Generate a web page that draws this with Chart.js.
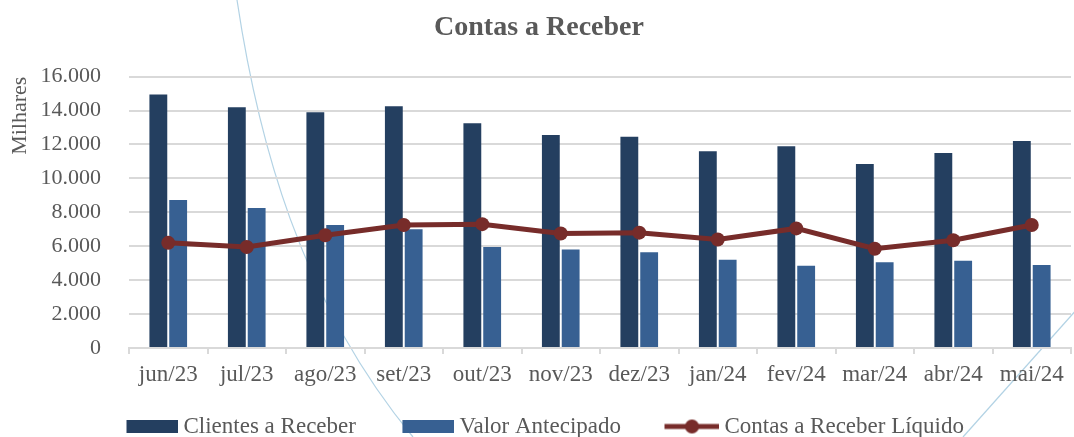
<!DOCTYPE html>
<html>
<head>
<meta charset="utf-8">
<script src="https://cdn.jsdelivr.net/npm/chart.js@4"></script>
<style>
  body { margin: 0; background: #fff; }
  #wrap { width: 1074px; height: 437px; overflow: hidden; position: relative; }
  canvas { display: block; }
</style>
</head>
<body>
<div id="wrap"><canvas id="c_receber" width="1078" height="448"></canvas></div>
<script>
const meses = ['jun/23', 'jul/23', 'ago/23', 'set/23', 'out/23', 'nov/23', 'dez/23', 'jan/24', 'fev/24', 'mar/24', 'abr/24', 'mai/24'];
const clientes = [14950, 14200, 13900, 14250, 13250, 12550, 12450, 11600, 11900, 10850, 11500, 12200];
const antecipado = [8730, 8250, 7250, 7000, 5950, 5800, 5650, 5200, 4850, 5050, 5150, 4900];
const liquido = [6200, 5950, 6650, 7250, 7300, 6750, 6800, 6400, 7050, 5850, 6350, 7250];

const cor_clientes = '#243F60';
const cor_antecipado = '#376092';
const cor_liquido = '#772C2A';
const cinza = '#595959';
const fonte = "'Liberation Serif', 'Times New Roman', serif";

const c_receber = document.getElementById('c_receber');

// simbolos da legenda (a parte esquerda fica transparente para aproximar o texto)
function boxImg(cor) {
    const cv = document.createElement('canvas');
    cv.width = 95;
    cv.height = 13;
    const g = cv.getContext('2d');
    g.fillStyle = cor;
    g.fillRect(95 - 52, 0, 52, 13);
    return cv;
}
function lineImg(cor) {
    const cv = document.createElement('canvas');
    cv.width = 95;
    cv.height = 16;
    const g = cv.getContext('2d');
    g.strokeStyle = cor;
    g.lineWidth = 5;
    g.beginPath();
    g.moveTo(95 - 55, 8);
    g.lineTo(95, 8);
    g.stroke();
    g.fillStyle = cor;
    g.beginPath();
    g.arc(95 - 27.5, 8, 7, 0, Math.PI * 2);
    g.fill();
    return cv;
}

// linhas decorativas do fundo + ajuste da legenda
const fundo = {
    id: 'fundo',
    afterLayout(chart) {
        chart.legend.left -= 24;
    },
    beforeDraw(chart) {
        const ctx = chart.ctx;
        ctx.save();
        ctx.strokeStyle = 'rgba(170, 205, 225, 0.9)';
        ctx.lineWidth = 1.2;
        ctx.beginPath();
        ctx.moveTo(237, 0);
        ctx.bezierCurveTo(258, 140, 300, 300, 413, 437);
        ctx.stroke();
        ctx.beginPath();
        ctx.moveTo(1078, 308);
        ctx.lineTo(963, 437);
        ctx.stroke();
        ctx.restore();
    }
};

var receber_data = {
    type: 'bar',
    data: {
        labels: meses,
        datasets: [
            {
                label: 'Clientes a Receber',
                data: clientes,
                backgroundColor: cor_clientes,
                borderWidth: 0,
                categoryPercentage: 0.505,
                barPercentage: 0.9,
                order: 1
            },
            {
                label: 'Valor Antecipado',
                data: antecipado,
                backgroundColor: cor_antecipado,
                borderWidth: 0,
                categoryPercentage: 0.505,
                barPercentage: 0.9,
                order: 1
            },
            {
                type: 'line',
                label: 'Contas a Receber Líquido',
                data: liquido,
                borderColor: cor_liquido,
                backgroundColor: cor_liquido,
                borderWidth: 5,
                pointRadius: 7,
                pointBorderWidth: 0,
                pointBackgroundColor: cor_liquido,
                tension: 0,
                order: 0
            }
        ]
    },
    options: {
        responsive: false,
        animation: false,
        layout: { padding: 0 },
        plugins: {
            title: {
                display: true,
                text: 'Contas a Receber',
                color: cinza,
                font: { family: fonte, size: 28, weight: 'bold', lineHeight: 1.2 },
                padding: { top: 11, bottom: 32 }
            },
            legend: {
                position: 'bottom',
                labels: {
                    usePointStyle: true,
                    pointStyleWidth: 82,
                    padding: 10,
                    color: cinza,
                    font: { family: fonte, size: 23 },
                    generateLabels: (chart) => {
                        const imgs = [boxImg(cor_clientes), boxImg(cor_antecipado), lineImg(cor_liquido)];
                        return chart.data.datasets.map((ds, i) => ({
                            text: ds.label,
                            pointStyle: imgs[i],
                            fillStyle: 'transparent',
                            strokeStyle: 'transparent',
                            lineWidth: 0,
                            fontColor: cinza,
                            hidden: false,
                            datasetIndex: i
                        }));
                    }
                }
            },
            tooltip: { enabled: false }
        },
        scales: {
            x: {
                grid: {
                    offset: true,
                    drawOnChartArea: false,
                    color: '#d9d9d9',
                    lineWidth: 2,
                    tickLength: 6
                },
                border: { color: '#d9d9d9', width: 2 },
                ticks: {
                    color: cinza,
                    padding: 7,
                    maxRotation: 0,
                    autoSkip: false,
                    font: { family: fonte, size: 23 }
                },
                afterFit: (scale) => {
                    scale.height = 57;
                }
            },
            y: {
                min: 0,
                max: 16000,
                grid: {
                    color: '#d9d9d9',
                    lineWidth: 2,
                    drawTicks: false
                },
                border: { display: false },
                ticks: {
                    stepSize: 2000,
                    color: cinza,
                    padding: 28,
                    font: { family: fonte, size: 22 },
                    callback: (v) => String(v).replace(/\B(?=(\d{3})+(?!\d))/g, '.')
                },
                title: {
                    display: true,
                    text: 'Milhares',
                    align: 'end',
                    color: cinza,
                    font: { family: fonte, size: 22 },
                    padding: { top: 7, bottom: 0 }
                },
                afterFit: (scale) => {
                    scale.width = 129;
                }
            }
        }
    },
    plugins: [fundo]
};

var chart_receber = new Chart(c_receber, receber_data);
</script>
</body>
</html>
